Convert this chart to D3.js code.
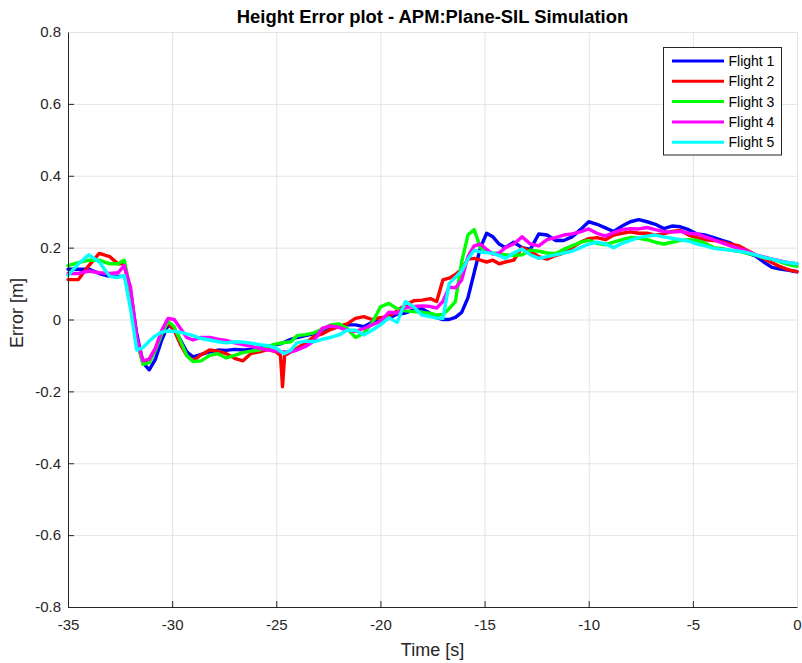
<!DOCTYPE html>
<html>
<head>
<meta charset="utf-8">
<script src="https://cdn.jsdelivr.net/npm/d3@7"></script>
<style>
  html, body { margin: 0; padding: 0; background: #ffffff; }
  svg { display: block; font-family: "Liberation Sans", Arial, Helvetica, sans-serif; }
</style>
</head>
<body>
<svg id="chart" width="802" height="663"></svg>
<script>
// Sample times (s), shared by all flights
const times = [
  -35, -34.5, -34, -33.5, -33, -32.6, -32.3, -32.0,
  -31.7, -31.4, -31.1, -30.8, -30.5, -30.2, -29.9, -29.6, -29.3, -29.0,
  -28.6, -28.2, -27.8, -27.4, -27.0, -26.6, -26.2, -25.8, -25.4, -25.0,
  -24.8, -24.7, -24.6, -24.3,
  -24.0, -23.6, -23.2, -22.8, -22.4, -22.0, -21.6, -21.2, -20.8, -20.4, -20.0,
  -19.6, -19.2, -18.8, -18.4, -18.0, -17.6, -17.3, -17.0,
  -16.7, -16.4, -16.1, -15.8, -15.5, -15.2, -14.9, -14.6, -14.3, -14.0,
  -13.6, -13.2, -12.8, -12.4, -12.0, -11.6, -11.2, -10.8, -10.4, -10.0,
  -9.6, -9.2, -8.8, -8.4, -8.0, -7.6, -7.2, -6.8, -6.4, -6.0,
  -5.6, -5.2, -4.8, -4.4, -4.0, -3.6, -3.2, -2.8, -2.4, -2.0, -1.6, -1.2, -0.8, -0.4, 0
];

// Height error (m) per flight
const flight1 = [
  0.14, 0.14, 0.14, 0.128, 0.12, 0.12, 0.12, 0.08,
  -0.04, -0.12, -0.14, -0.11, -0.057, -0.016, -0.025, -0.057, -0.09, -0.104,
  -0.097, -0.09, -0.085, -0.086, -0.083, -0.085, -0.083, -0.08, -0.075, -0.07,
  -0.068, -0.065, -0.063, -0.055,
  -0.05, -0.045, -0.04, -0.03, -0.02, -0.018, -0.015, -0.015, -0.02, -0.008, -0.005,
  0.003, 0.015, 0.018, 0.027, 0.03, 0.017, 0.005, 0.0,
  0.0, 0.006, 0.02, 0.06, 0.13, 0.2, 0.24, 0.23, 0.21, 0.2,
  0.215, 0.2, 0.195, 0.238, 0.235, 0.22, 0.22, 0.23, 0.25, 0.272,
  0.265, 0.255, 0.245, 0.26, 0.272, 0.278, 0.272, 0.265, 0.253, 0.26,
  0.258, 0.25, 0.238, 0.235, 0.228, 0.22, 0.213, 0.2, 0.185, 0.177, 0.16, 0.145, 0.14, 0.137, 0.133
];
const flight2 = [
  0.111, 0.111, 0.15, 0.184, 0.175, 0.155, 0.155, 0.07,
  -0.06, -0.12, -0.11, -0.08, -0.035, -0.01, -0.03, -0.07, -0.1, -0.115,
  -0.098, -0.085, -0.088, -0.095, -0.108, -0.115, -0.094, -0.09, -0.083, -0.09,
  -0.1, -0.187, -0.1, -0.09,
  -0.08, -0.065, -0.048, -0.04, -0.028, -0.02, -0.012, 0.003, 0.008, 0.0, 0.005,
  0.008, 0.025, 0.04, 0.052, 0.054, 0.058, 0.05, 0.11,
  0.115, 0.125, 0.14, 0.168, 0.17, 0.165, 0.16, 0.165, 0.155, 0.16,
  0.165, 0.2, 0.19, 0.175, 0.168, 0.178, 0.185, 0.2, 0.215, 0.225,
  0.228, 0.222, 0.235, 0.24, 0.244, 0.24, 0.24, 0.235, 0.238, 0.245,
  0.248, 0.235, 0.228, 0.222, 0.22, 0.216, 0.21, 0.205, 0.193, 0.18, 0.17, 0.158, 0.147, 0.138, 0.133
];
const flight3 = [
  0.15, 0.158, 0.165, 0.165, 0.155, 0.155, 0.165, 0.08,
  -0.06, -0.125, -0.12, -0.085, -0.04, -0.005, -0.02, -0.06, -0.1, -0.117,
  -0.115, -0.1, -0.095, -0.107, -0.1, -0.092, -0.088, -0.085, -0.075, -0.068,
  -0.066, -0.065, -0.064, -0.062,
  -0.045, -0.042, -0.037, -0.027, -0.015, -0.012, -0.025, -0.05, -0.038, -0.01, 0.035,
  0.045, 0.03, 0.024, 0.022, 0.02, 0.017, 0.013, 0.014,
  0.03, 0.05, 0.16, 0.235, 0.25, 0.2, 0.19, 0.185, 0.183, 0.18,
  0.178, 0.18, 0.193, 0.19, 0.185, 0.183, 0.195, 0.205, 0.215, 0.22,
  0.212, 0.208, 0.215, 0.222, 0.228, 0.226, 0.222, 0.215, 0.21, 0.215,
  0.22, 0.222, 0.22, 0.212, 0.2, 0.197, 0.193, 0.19, 0.184, 0.179, 0.172, 0.168, 0.16, 0.153, 0.148
];
const flight4 = [
  0.128, 0.128, 0.135, 0.13, 0.128, 0.13, 0.15, 0.09,
  -0.05, -0.115, -0.11, -0.08, -0.03, 0.003, 0.0, -0.025, -0.05, -0.057,
  -0.05, -0.05, -0.055, -0.058, -0.065, -0.07, -0.075, -0.08, -0.085, -0.088,
  -0.09, -0.09, -0.09, -0.09,
  -0.085, -0.075, -0.06, -0.025, -0.018, -0.022, -0.03, -0.033, -0.025, -0.015, -0.005,
  0.02, 0.018, 0.033, 0.036, 0.038, 0.036, 0.032, 0.05,
  0.09, 0.088, 0.11, 0.175, 0.205, 0.21, 0.195, 0.182, 0.185, 0.2,
  0.21, 0.23, 0.21, 0.205, 0.222, 0.228, 0.235, 0.238, 0.244, 0.252,
  0.24, 0.232, 0.242, 0.25, 0.253, 0.252, 0.256, 0.25, 0.245, 0.243,
  0.245, 0.24, 0.238, 0.23, 0.222, 0.213, 0.205, 0.198, 0.19, 0.18, 0.174, 0.168, 0.163, 0.158, 0.155
];
const flight5 = [
  0.123, 0.155, 0.18, 0.16, 0.12, 0.117, 0.122, 0.03,
  -0.085, -0.078, -0.06, -0.045, -0.035, -0.032, -0.033, -0.036, -0.04, -0.045,
  -0.053, -0.057, -0.062, -0.065, -0.062, -0.063, -0.066, -0.07, -0.073, -0.08,
  -0.088, -0.092, -0.095, -0.085,
  -0.065, -0.06, -0.062, -0.055, -0.05, -0.043, -0.03, -0.03, -0.043, -0.03, -0.015,
  0.005, -0.008, 0.05, 0.035, 0.012, 0.008, 0.004, 0.003,
  0.1, 0.118, 0.135, 0.168, 0.192, 0.188, 0.186, 0.184, 0.178, 0.17,
  0.185, 0.196, 0.18, 0.17, 0.175, 0.18, 0.185, 0.19, 0.2, 0.21,
  0.215, 0.21, 0.2, 0.212, 0.22, 0.228, 0.232, 0.235, 0.23, 0.226,
  0.222, 0.218, 0.21, 0.205, 0.198, 0.195, 0.193, 0.19, 0.186, 0.18, 0.173, 0.168, 0.162, 0.158, 0.155
];

const seriesNames = ["Flight 1", "Flight 2", "Flight 3", "Flight 4", "Flight 5"];
const seriesValues = [flight1, flight2, flight3, flight4, flight5];
const seriesColors = ["#0000ff", "#ff0000", "#00ff00", "#ff00ff", "#00ffff"];

const xTicks = [-35, -30, -25, -20, -15, -10, -5, 0];
const yTicks = [-0.8, -0.6, -0.4, -0.2, 0, 0.2, 0.4, 0.6, 0.8];

const titleText = "Height Error plot - APM:Plane-SIL Simulation";
const xLabelText = "Time [s]";
const yLabelText = "Error [m]";

// ---- layout ----
const plot = { left: 68, right: 797, top: 32, bottom: 607 };
const ink = "#262626";
const gridColor = "#e3e3e3";

const svg = d3.select("#chart");

const x = d3.scaleLinear().domain([-35, 0]).range([plot.left, plot.right]);
const y = d3.scaleLinear().domain([-0.8, 0.8]).range([plot.bottom, plot.top]);

// grid
const grid = svg.append("g").attr("class", "grid");
grid.append("g")
  .attr("transform", `translate(0,${plot.bottom})`)
  .call(d3.axisBottom(x).tickValues(xTicks).tickSize(-(plot.bottom - plot.top)).tickFormat(""))
  .call(g => g.select(".domain").remove())
  .call(g => g.selectAll("line").attr("stroke", gridColor).attr("stroke-width", 1));
grid.append("g")
  .attr("transform", `translate(${plot.left},0)`)
  .call(d3.axisLeft(y).tickValues(yTicks).tickSize(-(plot.right - plot.left)).tickFormat(""))
  .call(g => g.select(".domain").remove())
  .call(g => g.selectAll("line").attr("stroke", gridColor).attr("stroke-width", 1));

// data lines
const line = d3.line()
  .x((d, i) => x(times[i]))
  .y(d => y(d));

svg.append("g").attr("class", "series")
  .selectAll("path")
  .data(seriesValues)
  .join("path")
  .attr("d", line)
  .attr("fill", "none")
  .attr("stroke", (d, i) => seriesColors[i])
  .attr("stroke-width", 3.4)
  .attr("stroke-linejoin", "round")
  .attr("stroke-linecap", "round");

// axes with inward ticks
const fmtY = d => (Math.abs(d) < 1e-9 ? "0" : d3.format(".1f")(d).replace("−", "-"));

const xAxis = svg.append("g")
  .attr("transform", `translate(0,${plot.bottom})`)
  .call(d3.axisBottom(x).tickValues(xTicks).tickSizeInner(-6).tickSizeOuter(0).tickPadding(12)
    .tickFormat(d => String(d)));
const yAxis = svg.append("g")
  .attr("transform", `translate(${plot.left},0)`)
  .call(d3.axisLeft(y).tickValues(yTicks).tickSizeInner(-6).tickSizeOuter(0).tickPadding(7)
    .tickFormat(fmtY));

[xAxis, yAxis].forEach(a => {
  a.select(".domain").attr("stroke", ink).attr("stroke-width", 1);
  a.selectAll(".tick line").attr("stroke", ink);
  a.selectAll(".tick text")
    .attr("fill", ink)
    .style("font-size", "15px")
    .style("font-family", "'Liberation Sans', Arial, sans-serif");
});
// no box on the far edges, so no ticks there
xAxis.selectAll(".tick").filter(d => d === 0).select("line").remove();
yAxis.selectAll(".tick").filter(d => d === 0.8).select("line").remove();

// title and axis labels
svg.append("text")
  .attr("x", (plot.left + plot.right) / 2)
  .attr("y", 23)
  .attr("text-anchor", "middle")
  .attr("fill", "#000")
  .style("font-size", "18.4px")
  .style("font-weight", "bold")
  .text(titleText);

svg.append("text")
  .attr("x", (plot.left + plot.right) / 2)
  .attr("y", 656)
  .attr("text-anchor", "middle")
  .attr("fill", ink)
  .style("font-size", "18px")
  .text(xLabelText);

svg.append("text")
  .attr("transform", "translate(23,313) rotate(-90)")
  .attr("text-anchor", "middle")
  .attr("fill", ink)
  .style("font-size", "18px")
  .text(yLabelText);

// legend
const legend = svg.append("g").attr("transform", "translate(663.5,47.5)");
legend.append("rect")
  .attr("width", 118).attr("height", 107.5)
  .attr("fill", "#ffffff")
  .attr("stroke", ink)
  .attr("stroke-width", 1);

const rows = legend.selectAll("g.row")
  .data(seriesNames)
  .join("g")
  .attr("class", "row")
  .attr("transform", (d, i) => `translate(0,${13.5 + i * 20.3})`);
rows.append("line")
  .attr("x1", 8.5).attr("x2", 60.5)
  .attr("y1", 0).attr("y2", 0)
  .attr("stroke", (d, i) => seriesColors[i])
  .attr("stroke-width", 3);
rows.append("text")
  .attr("x", 65)
  .attr("y", 0)
  .attr("dy", "0.35em")
  .attr("fill", "#000")
  .style("font-size", "14px")
  .text(d => d);
</script>
</body>
</html>
